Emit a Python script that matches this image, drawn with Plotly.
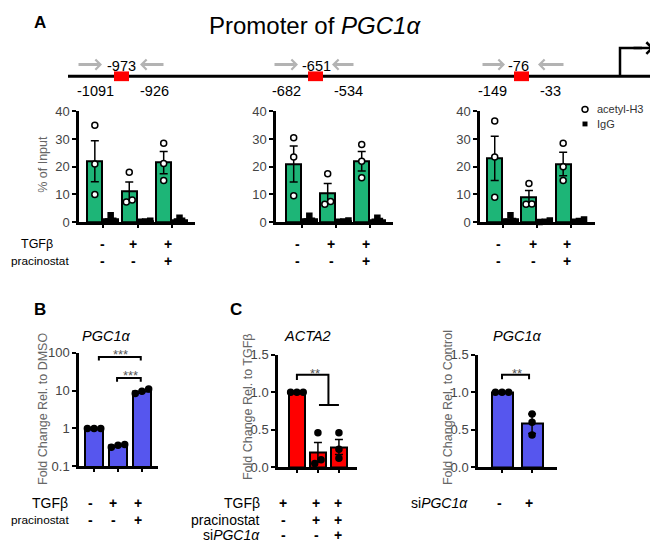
import numpy as np
import plotly.graph_objects as go

W, H = 658, 552
PAGE_OFFSET = 8  # the page body margin places the figure 8px right and down
FONT = "Arial, Liberation Sans, sans-serif"

# ------------------------- DATA -------------------------
# Panel A: ChIP, acetyl-H3 vs IgG at three promoter sites
site_labels = ["-973", "-651", "-76"]
primer_fwd = ["-1091", "-682", "-149"]
primer_rev = ["-926", "-534", "-33"]
tgfb_A = ["-", "+", "+"]
prac_A = ["-", "-", "+"]

ac_973_points = [[35, 21, 10], [18, 7.3, 8], [28.5, 21.2, 15]]
ac_973_mean = [22, 11, 21.5]
ac_973_err = [7.4, 3.5, 4.0]
igg_973_points = [[2.5, 0.5, 0.3], [0.5, 0.3, 0.2], [1.6, 0.5, 0.3]]
igg_973_mean = [1.0, 0.35, 0.8]

ac_651_points = [[30.5, 23.5, 9.5], [17.5, 6.5, 7.5], [28, 22, 16]]
ac_651_mean = [21, 10.5, 22]
ac_651_err = [6.5, 3.5, 3.5]
igg_651_points = [[2.3, 0.5, 0.3], [0.6, 0.3, 0.2], [1.6, 0.4, 0.2]]
igg_651_mean = [1.0, 0.35, 0.7]

ac_76_points = [[36.5, 23.5, 9], [14, 6.5, 6.6], [28.5, 20, 15]]
ac_76_mean = [23, 9, 21]
ac_76_err = [8.0, 2.4, 4.2]
igg_76_points = [[2.5, 0.4, 0.2], [0.6, 0.2, 0.1], [1.0, 0.4, 0.2]]
igg_76_mean = [1.0, 0.3, 0.6]

legend_labels = ["acetyl-H3", "IgG"]

# Panel B: PGC1a expression (log scale)
tgfb_B = ["-", "+", "+"]
prac_B = ["-", "-", "+"]
pgc_B_points = [[1, 1, 1], [0.38, 0.32, 0.36], [11, 8.3, 9.6]]
pgc_B_mean = [1.0, 0.35, 9.6]

# Panel C left: ACTA2
tgfb_C = ["+", "+", "+"]
prac_C = ["-", "+", "+"]
si_C = ["-", "-", "+"]
acta2_points = [[1, 1, 1], [0.46, 0.1, 0.05], [0.46, 0.24, 0.12]]
acta2_mean = [1.0, 0.2, 0.27]
acta2_err = [0, 0.13, 0.1]

# Panel C right: PGC1a knockdown
si_C2 = ["-", "+"]
pgc_C2_points = [[1, 1, 1], [0.71, 0.6, 0.43]]
pgc_C2_mean = [1.0, 0.58]
pgc_C2_err = [0, 0.13]

# ------------------------- STYLE -------------------------
GREEN = "#1db577"
RED = "#ff0000"
BLUE = "#5656ee"
GREY_ARROW = "#b3b3b3"
TICK_GREY = "#444"
TITLE_GREY = "#666"


def px_x(p):
    return (p - PAGE_OFFSET) / W


def px_y(p):
    return 1 - (p - PAGE_OFFSET) / H


def spread(vals, thr, step):
    idx = sorted(range(len(vals)), key=lambda i: vals[i])
    clusters = []
    for i in idx:
        if clusters and vals[i] - vals[clusters[-1][-1]] < thr:
            clusters[-1].append(i)
        else:
            clusters.append([i])
    off = [0.0] * len(vals)
    for c in clusters:
        n = len(c)
        for k, i in enumerate(c):
            off[i] = (k - (n - 1) / 2) * step
    return off


fig = go.Figure()
layout = {}


def setup_axes(n, x0, x1, ybot, ytop, xrange, yrange, yticks, yticktext, xticks, ytype="linear"):
    key = "" if n == 1 else str(n)
    layout["xaxis" + key] = dict(
        domain=[px_x(x0), px_x(x1)], range=xrange, anchor="y" + key,
        showline=True, linecolor="black", linewidth=2.5, mirror=False,
        ticks="outside", ticklen=3, tickwidth=2, tickcolor="black",
        tickvals=xticks, showticklabels=False, showgrid=False, zeroline=False, fixedrange=True)
    layout["yaxis" + key] = dict(
        domain=[px_y(ybot), px_y(ytop)], range=yrange, type=ytype, anchor="x" + key,
        showline=True, linecolor="black", linewidth=2.5,
        ticks="outside", ticklen=4, tickwidth=2, tickcolor="black",
        tickvals=yticks, ticktext=yticktext,
        tickfont=dict(size=13, color=TICK_GREY, family=FONT),
        showgrid=False, zeroline=False, fixedrange=True)


def add_bars(n, xs, means, color, width, err=None):
    key = "" if n == 1 else str(n)
    kw = {}
    if err is not None:
        kw["error_y"] = dict(type="data", array=err, color="black", thickness=1.5, width=4, visible=True)
    fig.add_trace(go.Bar(x=xs, y=means, width=width, marker=dict(color=color, line=dict(color="black", width=2)),
                         xaxis="x" + key, yaxis="y" + key, showlegend=False, **kw))


def add_points(n, centers, points, thr, step, symbol, fill, size, name=None, log=False):
    key = "" if n == 1 else str(n)
    xs, ys = [], []
    for c, pts in zip(centers, points):
        vals = list(np.log10(pts)) if log else pts
        offs = spread(vals, thr, step)
        for o, v in zip(offs, pts):
            xs.append(c + o)
            ys.append(v)
    fig.add_trace(go.Scatter(x=xs, y=ys, mode="markers", xaxis="x" + key, yaxis="y" + key,
                             marker=dict(symbol=symbol, color=fill, size=size, line=dict(color="black", width=1.5)),
                             cliponaxis=False, name=name, showlegend=False))


def add_line(n, xs, ys):
    key = "" if n == 1 else str(n)
    fig.add_trace(go.Scatter(x=xs, y=ys, mode="lines", line=dict(color="black", width=2),
                             xaxis="x" + key, yaxis="y" + key, showlegend=False, cliponaxis=False,
                             hoverinfo="skip"))


# ------------------------- PANEL A charts -------------------------
A_panels = [
    (1, 79, 195, [-0.70, 2.67], ac_973_points, ac_973_mean, ac_973_err, igg_973_points, igg_973_mean),
    (2, 276, 393, [-0.76, 2.68], ac_651_points, ac_651_mean, ac_651_err, igg_651_points, igg_651_mean),
    (3, 480, 595, [-0.67, 2.69], ac_76_points, ac_76_mean, ac_76_err, igg_76_points, igg_76_mean),
]
idxA = np.arange(len(tgfb_A))
for n, x0, x1, xr, acp, acm, ace, iggp, iggm in A_panels:
    setup_axes(n, x0, x1, 221, 107, xr, [0, 40], [0, 10, 20, 30, 40], ["0", "10", "20", "30", "40"], list(idxA))
    gx = list(idxA - 0.24)
    ix = list(idxA + 0.22)
    add_bars(n, gx, acm, GREEN, 0.44, ace)
    add_bars(n, ix, iggm, "black", 0.44)
    add_points(n, gx, acp, 1.8, 0.17, "circle", "white", 6, legend_labels[0])
    add_points(n, ix, iggp, 1.0, 0.15, "square", "black", 5, legend_labels[1])

# ------------------------- PANEL B -------------------------
idxB = np.arange(len(tgfb_B))
setup_axes(4, 79, 158, 472, 355, [-0.63, 2.67], [-1, 2], [0.1, 1, 10, 100], ["0.1", "1", "10", "100"],
           list(idxB), ytype="log")
add_bars(4, list(idxB), pgc_B_mean, BLUE, 0.75)
add_points(4, list(idxB), pgc_B_points, 0.1, 0.28, "circle", "black", 6, log=True)
add_line(4, [0.2, 0.2, 1.95, 1.95], [62, 77, 77, 62])
add_line(4, [0.96, 0.96, 1.95, 1.95], [17, 21.5, 21.5, 17])

# ------------------------- PANEL C left -------------------------
idxC = np.arange(len(tgfb_C))
setup_axes(5, 278, 357, 473, 357, [-0.9, 2.86], [0, 1.5], [0, 0.5, 1.0, 1.5], ["0.0", "0.5", "1.0", "1.5"], list(idxC))
add_bars(5, list(idxC), acta2_mean, RED, 0.76, acta2_err)
add_points(5, list(idxC), acta2_points, 0.06, 0.3, "circle", "black", 6)
add_line(5, [0, 0, 1.5, 1.5], [1.16, 1.23, 1.23, 0.83])
add_line(5, [1.05, 2.0], [0.83, 0.83])

# ------------------------- PANEL C right -------------------------
idxC2 = np.arange(len(si_C2))
setup_axes(6, 478, 557, 473, 357, [-0.8, 1.83], [0, 1.5], [0, 0.5, 1.0, 1.5], ["0.0", "0.5", "1.0", "1.5"], list(idxC2))
add_bars(6, list(idxC2), pgc_C2_mean, BLUE, 0.7, pgc_C2_err)
add_points(6, list(idxC2), pgc_C2_points, 0.06, 0.22, "circle", "black", 6)
add_line(6, [0, 0, 0.9, 0.9], [1.17, 1.23, 1.23, 1.17])

# ------------------------- SHAPES (promoter schematic, legend keys) -------------------------
shapes = []
shapes.append(dict(type="line", xref="paper", yref="paper", x0=px_x(68), x1=px_x(660), y0=px_y(71), y1=px_y(71),
                   line=dict(color="black", width=3)))
site_centers = [121.5, 315.5, 521.5]
for c in site_centers:
    shapes.append(dict(type="rect", xref="paper", yref="paper", x0=px_x(c - 7.5), x1=px_x(c + 7.5),
                       y0=px_y(76), y1=px_y(66), fillcolor="#ff0000", line=dict(width=0)))
shapes.append(dict(type="path", xref="paper", yref="paper",
                   path=f"M {px_x(620)},{px_y(71)} L {px_x(620)},{px_y(42)} L {px_x(642)},{px_y(42)}",
                   line=dict(color="black", width=2.5)))
# legend keys
shapes.append(dict(type="circle", xref="paper", yref="paper", x0=px_x(582), x1=px_x(588),
                   y0=px_y(108), y1=px_y(102), fillcolor="white", line=dict(color="black", width=1.5)))
shapes.append(dict(type="rect", xref="paper", yref="paper", x0=px_x(582.5), x1=px_x(587.5),
                   y0=px_y(122.5), y1=px_y(117.5), fillcolor="black", line=dict(width=0)))

ann = []


def text(x, y, s, size=12, color="black", xanchor="center", yanchor="middle", angle=0, bold=False):
    if bold:
        s = f"<b>{s}</b>"
    ann.append(dict(x=px_x(x), y=px_y(y), xref="paper", yref="paper", text=s, showarrow=False,
                    font=dict(size=size, color=color, family=FONT), xanchor=xanchor, yanchor=yanchor,
                    textangle=angle))


ann.append(dict(x=px_x(654), y=px_y(42), xref="paper", yref="paper", ax=-22, ay=0, text="",
                showarrow=True, arrowhead=4, arrowsize=0.9, arrowwidth=2.5, arrowcolor="black"))
arrows = [(77, 102), (165, 140), (273, 298), (355, 332), (481, 505), (565, 538)]
for tail, head in arrows:
    ann.append(dict(x=px_x(head), y=px_y(59), xref="paper", yref="paper", ax=tail - head, ay=0, text="",
                    showarrow=True, arrowhead=4, arrowsize=0.65, arrowwidth=3, arrowcolor=GREY_ARROW))

text(40, 16, "A", size=17, bold=True)
text(315, 19, "Promoter of <i>PGC1α</i>", size=24)
for c, s in zip([121, 316, 518.5], site_labels):
    text(c, 60, s, size=14.5)
for c, s in zip([95, 286, 492], primer_fwd):
    text(c, 86, s, size=14.5)
for c, s in zip([154, 348, 550], primer_rev):
    text(c, 86, s, size=14.5)

# legend texts
text(595, 105, legend_labels[0], size=11, color="#333", xanchor="left")
text(595, 120, legend_labels[1], size=11, color="#333", xanchor="left")

# y titles
text(43, 162, "% of Input", size=12.5, color=TITLE_GREY, angle=-90)
text(43, 413, "Fold Change Rel. to DMSO", size=12.5, color=TITLE_GREY, angle=-90)
text(248, 411, "Fold Change Rel. to TGFβ", size=12.5, color=TITLE_GREY, angle=-90)
text(448, 412, "Fold Change Rel. to Control", size=12.5, color=TITLE_GREY, angle=-90)

# panel letters & titles
text(40, 311, "B", size=17, bold=True)
text(236, 311, "C", size=17, bold=True)
text(106, 338, "<i>PGC1α</i>", size=14.5)
text(307, 338, "<i>ACTA2</i>", size=14.5)
text(517, 338, "<i>PGC1α</i>", size=14.5)

SIGN = 14
LAB = 11.8
# treatment rows A
text(55, 243, "TGFβ", size=12.5, xanchor="right")
text(71, 261, "pracinostat", size=LAB, xanchor="right")
for xs in ([102, 133, 168], [297, 331, 366], [498, 533, 567]):
    for x, a, b in zip(xs, tgfb_A, prac_A):
        text(x, 243, a, size=SIGN, bold=True)
        text(x, 261, b, size=SIGN, bold=True)
# B
text(70, 510, "TGFβ", size=14, xanchor="right")
text(71, 527, "pracinostat", size=LAB, xanchor="right")
for x, a, b in zip([90, 113, 138], tgfb_B, prac_B):
    text(x, 510, a, size=SIGN, bold=True)
    text(x, 527, b, size=SIGN, bold=True)
# C left
text(262, 510, "TGFβ", size=14, xanchor="right")
text(262, 527, "pracinostat", size=14, xanchor="right")
text(262, 543, "si<i>PGC1α</i>", size=14, xanchor="right")
for x, a, b, c in zip([283, 316, 338], tgfb_C, prac_C, si_C):
    text(x, 510, a, size=SIGN, bold=True)
    text(x, 527, b, size=SIGN, bold=True)
    text(x, 543, c, size=SIGN, bold=True)
# C right
text(470, 510, "si<i>PGC1α</i>", size=14, xanchor="right")
for x, a in zip([499, 529], si_C2):
    text(x, 510, a, size=SIGN, bold=True)

# significance stars
text(120, 357, "***", size=13, color="#555")
text(130, 379, "***", size=13, color="#555")
text(315, 376, "**", size=13, color="#555")
text(517, 376, "**", size=13, color="#555")

layout.update(dict(
    width=W, height=H, margin=dict(l=0, r=0, t=0, b=0),
    paper_bgcolor="white", plot_bgcolor="white", barmode="overlay", bargap=0,
    font=dict(family=FONT, color="black"), showlegend=False,
    shapes=shapes, annotations=ann,
))
fig.update_layout(**layout)
fig.write_html("out.html")
